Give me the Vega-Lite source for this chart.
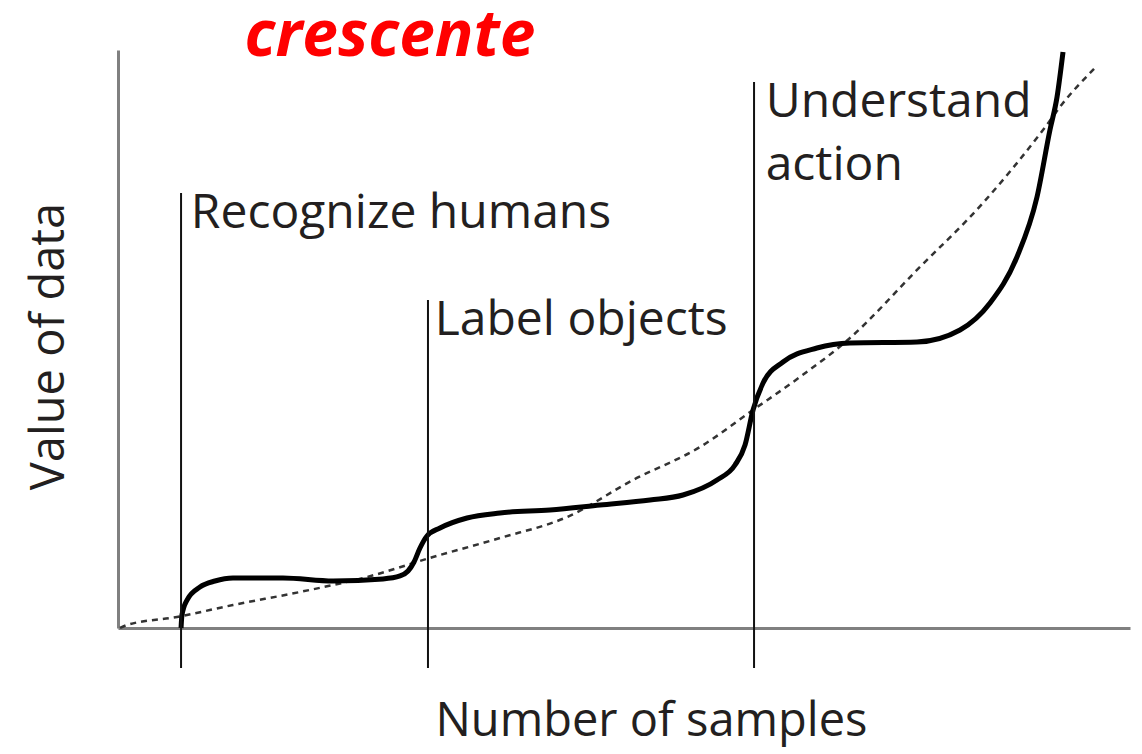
{
  "$schema": "https://vega.github.io/schema/vega-lite/v6.json",
  "width": 1012,
  "height": 578,
  "autosize": "none",
  "padding": {"left": 118, "top": 50, "right": 12, "bottom": 126},
  "background": "white",
  "config": {"view": {"stroke": null}, "font": "Open Sans"},
  "datasets": {
    "solid": [
      {"x": 6.23, "y": 0}, {"x": 6.32, "y": 2.25}, {"x": 6.82, "y": 4.84}, {"x": 8.1, "y": 7.09},
      {"x": 9.58, "y": 8.13}, {"x": 11.36, "y": 8.65}, {"x": 16.3, "y": 8.65}, {"x": 21.25, "y": 8.13},
      {"x": 26.19, "y": 8.48}, {"x": 27.87, "y": 9.0}, {"x": 28.66, "y": 9.86}, {"x": 29.25, "y": 11.42},
      {"x": 29.84, "y": 13.84}, {"x": 30.53, "y": 15.92}, {"x": 31.82, "y": 17.3}, {"x": 34.49, "y": 19.03},
      {"x": 37.75, "y": 19.9}, {"x": 42.69, "y": 20.42}, {"x": 47.63, "y": 21.28}, {"x": 52.57, "y": 22.15},
      {"x": 55.83, "y": 23.01}, {"x": 59.19, "y": 25.61}, {"x": 60.97, "y": 28.2}, {"x": 61.96, "y": 31.66},
      {"x": 62.75, "y": 37.72}, {"x": 63.74, "y": 42.39}, {"x": 65.71, "y": 46.02}, {"x": 69.07, "y": 48.44},
      {"x": 72.33, "y": 49.31}, {"x": 78.95, "y": 49.48}, {"x": 83.2, "y": 51.56}, {"x": 86.17, "y": 56.23},
      {"x": 88.83, "y": 64.19}, {"x": 90.81, "y": 74.57}, {"x": 92.09, "y": 86.16}, {"x": 92.79, "y": 91.87},
      {"x": 93.38, "y": 99.65}
    ],
    "dashed": [
      {"x": 0.2, "y": 0}, {"x": 0.89, "y": 0.52}, {"x": 5.83, "y": 1.9}, {"x": 11.36, "y": 3.98},
      {"x": 17.98, "y": 6.23}, {"x": 24.6, "y": 8.82}, {"x": 31.13, "y": 12.28}, {"x": 37.75, "y": 15.57},
      {"x": 44.37, "y": 19.2}, {"x": 50.89, "y": 25.61}, {"x": 57.51, "y": 31.31}, {"x": 62.75, "y": 37.72},
      {"x": 67.39, "y": 43.43}, {"x": 72.33, "y": 50.17}, {"x": 78.95, "y": 61.94}, {"x": 85.47, "y": 73.53},
      {"x": 91.4, "y": 86.16}, {"x": 93.38, "y": 90.83}, {"x": 96.54, "y": 96.89}
    ],
    "rules": [
      {"x": 6.23, "y": 75.26, "y2": -6.92},
      {"x": 30.63, "y": 56.75, "y2": -6.92},
      {"x": 62.85, "y": 94.46, "y2": -6.92}
    ],
    "labels": [
      {"x": 7.2, "y": 69.2, "label": "Recognize humans"},
      {"x": 31.3, "y": 50.69, "label": "Label objects"},
      {"x": 64.0, "y": 88.41, "label": "Understand\naction"}
    ],
    "heading": [
      {"x": 12.5, "y": 99.0, "label": "crescente"}
    ]
  },
  "encoding": {
    "x": {
      "field": "x", "type": "quantitative",
      "scale": {"domain": [0, 100], "nice": false, "zero": false},
      "axis": {
        "title": "Number of samples", "domain": true, "domainColor": "#808080", "domainWidth": 3,
        "ticks": false, "labels": false, "grid": false,
        "titleFont": "Open Sans", "titleFontSize": 47, "titleFontWeight": "normal", "titleColor": "#231f20",
        "titleX": 533, "titleY": 107, "titleAlign": "center", "titleBaseline": "alphabetic"
      }
    },
    "y": {
      "field": "y", "type": "quantitative",
      "scale": {"domain": [0, 100], "nice": false, "zero": false},
      "axis": {
        "title": "Value of data", "domain": true, "domainColor": "#808080", "domainWidth": 3,
        "ticks": false, "labels": false, "grid": false,
        "titleFont": "Open Sans", "titleFontSize": 47, "titleFontWeight": "normal", "titleColor": "#231f20",
        "titleX": -55, "titleY": 296, "titleAngle": -90, "titleAlign": "center", "titleBaseline": "alphabetic"
      }
    }
  },
  "layer": [
    {
      "data": {"name": "dashed"},
      "mark": {"type": "line", "interpolate": "monotone", "color": "#333333", "strokeWidth": 2.5, "strokeDash": [6, 5]}
    },
    {
      "data": {"name": "solid"},
      "mark": {"type": "line", "interpolate": "monotone", "color": "#000000", "strokeWidth": 5}
    },
    {
      "data": {"name": "rules"},
      "mark": {"type": "rule", "color": "#111111", "strokeWidth": 2},
      "encoding": {"y2": {"field": "y2"}}
    },
    {
      "data": {"name": "labels"},
      "mark": {"type": "text", "align": "left", "baseline": "alphabetic", "font": "Open Sans", "fontSize": 48, "color": "#231f20", "lineBreak": "\n", "lineHeight": 63},
      "encoding": {"text": {"field": "label"}}
    },
    {
      "data": {"name": "heading"},
      "mark": {"type": "text", "align": "left", "baseline": "alphabetic", "font": "Open Sans", "fontSize": 64, "fontWeight": "bold", "fontStyle": "italic", "color": "#ff0000"},
      "encoding": {"text": {"field": "label"}}
    }
  ]
}
